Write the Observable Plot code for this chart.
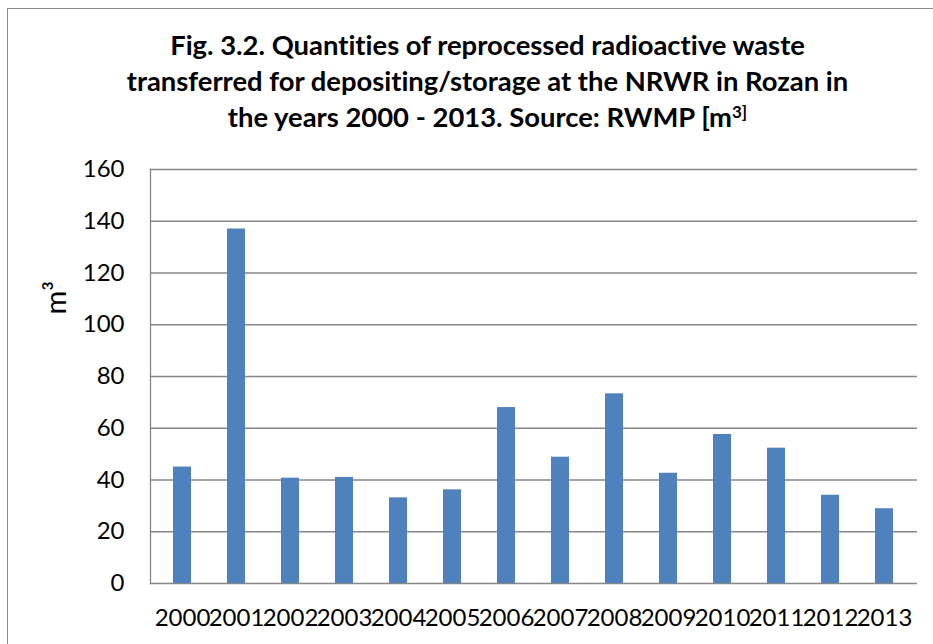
<!DOCTYPE html>
<html>
<head>
<meta charset="utf-8">
<script src="https://cdn.jsdelivr.net/npm/d3@7"></script>
<script src="https://cdn.jsdelivr.net/npm/@observablehq/plot@0.6"></script>
<style>
  html, body { margin: 0; padding: 0; background: #fff; overflow: hidden; }
  #wrap { position: relative; width: 933px; height: 644px; font-family: Lato, "Open Sans", sans-serif; font-variant-ligatures: none; }
  #border { position: absolute; left: 7px; top: 8px; width: 1000px; height: 700px; border-left: 1px solid #8a8a8a; border-top: 1px solid #8a8a8a; box-sizing: border-box; pointer-events: none; }
  #title { position: relative; height: 150px; width: 975px; text-align: center; font-weight: bold; font-size: 27.4px; line-height: 36px; color: #000; padding-top: 27px; box-sizing: border-box; }
  #title sup { font-size: 0.62em; line-height: 0; vertical-align: 0.55em; }
  #chart svg { display: block; font-variant-ligatures: none; }
</style>
</head>
<body>
<div id="wrap">
  <div id="border"></div>
  <div id="title">Fig. 3.2. Quantities of reprocessed radioactive waste<br>transferred for depositing/storage at the NRWR in Rozan in<br>the years 2000 - 2013. Source: RWMP [m<sup>3]</sup></div>
  <div id="chart"></div>
</div>
<script>
const years = ["2000","2001","2002","2003","2004","2005","2006","2007","2008","2009","2010","2011","2012","2013"];
const volumes = [45, 137, 40.7, 41, 33.1, 36.2, 68, 48.8, 73.3, 42.6, 57.6, 52.3, 34.1, 28.9];
const yTicks = [0, 20, 40, 60, 80, 100, 120, 140, 160];
const yLabel = "m³";

const data = years.map((y, i) => ({year: y, value: volumes[i]}));

const plot = Plot.plot({
  width: 933,
  height: 494,
  marginTop: 19,
  marginBottom: 61,
  marginLeft: 150,
  marginRight: 16,
  style: {fontFamily: "Lato, 'Open Sans', sans-serif", fontSize: "24px", color: "#000", background: "transparent"},
  x: {domain: years, paddingInner: 0.666, paddingOuter: 0.333, label: null},
  y: {domain: [0, 160], label: null},
  marks: [
    Plot.ruleY(yTicks, {stroke: "#868686", strokeWidth: 1.3}),
    Plot.frame({anchor: "left", stroke: "#868686", strokeWidth: 1.3}),
    Plot.barY(data, {x: "year", y: "value", fill: "#4F81BD"}),
    Plot.axisY(yTicks, {tickSize: 0, tickPadding: 26, fontSize: 24, label: null}),
    Plot.axisX({tickSize: 0, tickPadding: 25, fontSize: 24, label: null}),
    Plot.text([yLabel], {frameAnchor: "left", rotate: -90, dx: -94, dy: -62, fontSize: 29, fill: "#000"})
  ]
});
document.getElementById("chart").appendChild(plot);
</script>
</body>
</html>
